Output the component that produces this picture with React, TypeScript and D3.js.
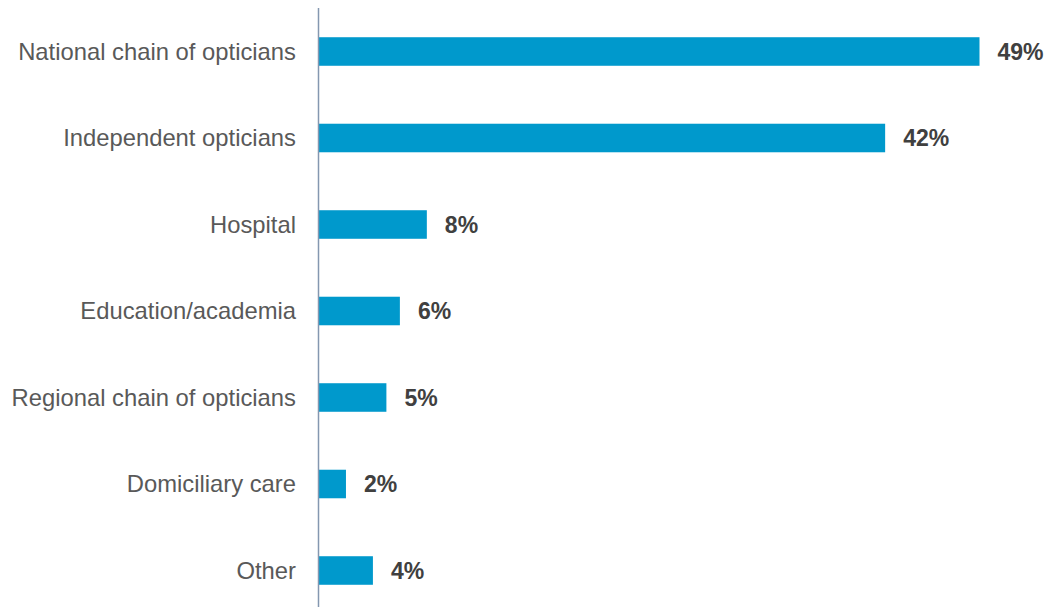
import React from "react";
import * as d3 from "d3";

const categories = [
  "National chain of opticians",
  "Independent opticians",
  "Hospital",
  "Education/academia",
  "Regional chain of opticians",
  "Domiciliary care",
  "Other",
];
const values = [49, 42, 8, 6, 5, 2, 4];

const W = 1051;
const H = 607;

export default function App() {
  const x = d3.scaleLinear().domain([0, 49]).range([319, 979.5]);
  const y = d3
    .scaleBand<string>()
    .domain(categories)
    .range([8.25, 613.75])
    .paddingInner(0.67)
    .paddingOuter(0.335);
  const font = "'Liberation Sans', Arial, sans-serif";
  return (
    <svg
      width={W}
      height={H}
      style={{ position: "absolute", left: 0, top: 0, background: "#fff" }}
    >
      {categories.map((c, i) => {
        const yy = y(c)!;
        const bw = y.bandwidth();
        return (
          <g key={c}>
            <rect x={x(0)} y={yy} width={x(values[i]) - x(0)} height={bw} fill="#0099CC" />
            <text
              x={296}
              y={yy + bw / 2}
              dy="0.34em"
              textAnchor="end"
              fontFamily={font}
              fontSize={23.8}
              fill="#595959"
            >
              {c}
            </text>
            <text
              x={x(values[i]) + 18}
              y={yy + bw / 2}
              dy="0.35em"
              fontFamily={font}
              fontSize={23}
              fontWeight="bold"
              fill="#404040"
            >
              {values[i]}%
            </text>
          </g>
        );
      })}
      <line x1={318.5} x2={318.5} y1={8} y2={H} stroke="#8497B0" strokeWidth={1.5} />
    </svg>
  );
}
